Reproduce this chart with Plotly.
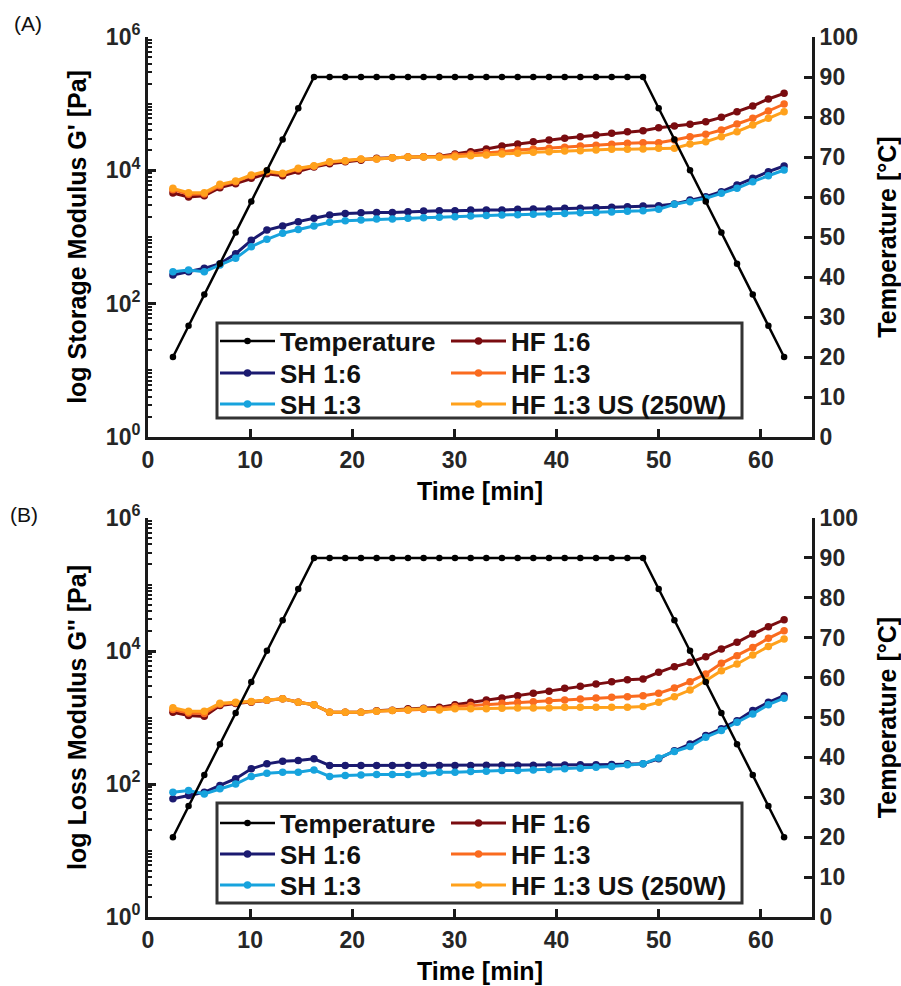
import plotly.graph_objects as go

# ---------------- data ----------------
time_min = [2.44, 3.97, 5.51, 7.04, 8.58, 10.11, 11.64, 13.18, 14.71, 16.25,
            17.78, 19.31, 20.85, 22.38, 23.92, 25.45, 26.98, 28.52, 30.05, 31.59,
            33.12, 34.65, 36.19, 37.72, 39.26, 40.79, 42.32, 43.86, 45.39, 46.93,
            48.46, 49.99, 51.53, 53.06, 54.60, 56.13, 57.66, 59.20, 60.73, 62.27]

temperature = [20, 27.8, 35.6, 43.3, 51.1, 58.9, 66.7, 74.4, 82.2, 90,
               90, 90, 90, 90, 90, 90, 90, 90, 90, 90,
               90, 90, 90, 90, 90, 90, 90, 90, 90, 90,
               90, 82.2, 74.4, 66.7, 58.9, 51.1, 43.3, 35.6, 27.8, 20]

# (A) storage modulus G' [Pa]
gp_sh16 = [269, 302, 339, 398, 562, 891, 1270, 1460, 1700, 1910,
           2140, 2260, 2320, 2340, 2340, 2400, 2450, 2480, 2480, 2540,
           2540, 2540, 2600, 2630, 2630, 2690, 2690, 2750, 2790, 2850,
           2920, 2950, 3130, 3590, 4030, 4790, 6030, 7590, 9550, 11610]
gp_sh13 = [302, 320, 302, 380, 479, 716, 923, 1140, 1300, 1460,
           1660, 1760, 1800, 1860, 1860, 1910, 1950, 1970, 2020, 2070,
           2110, 2140, 2160, 2190, 2210, 2260, 2320, 2340, 2370, 2430,
           2480, 2600, 3090, 3390, 3800, 4520, 5370, 6760, 8320, 10120]
gp_hf16 = [4570, 3980, 4170, 5500, 6310, 7590, 8910, 8320, 9770, 11220,
           12590, 13490, 14130, 15140, 15490, 15850, 16030, 16220, 17580, 19050,
           20890, 23170, 24830, 26920, 28510, 30200, 31990, 33880, 35890, 38020,
           39360, 43650, 46240, 48980, 53700, 62370, 75860, 92260, 117500, 142900]
gp_hf13 = [5130, 4370, 4420, 5890, 6760, 8320, 9550, 8910, 10470, 11480,
           13180, 13800, 14620, 14790, 15490, 15850, 16030, 16030, 16980, 17580,
           18410, 19050, 20180, 20890, 21380, 22130, 23170, 23710, 24550, 25410,
           26000, 26000, 28510, 31990, 34670, 40270, 49550, 60260, 77620, 98850]
gp_hf13us = [5370, 4620, 4620, 6170, 6920, 8510, 9770, 9020, 10720, 11750,
             13490, 13960, 14790, 14790, 15490, 15850, 15850, 15670, 16030, 16600,
             16980, 17580, 17990, 18620, 19050, 19500, 19720, 20180, 20650, 20650,
             20890, 21380, 21380, 24830, 26920, 31990, 38020, 47860, 60260, 75860]

# (B) loss modulus G'' [Pa]
gpp_sh16 = [60, 67, 75, 95, 120, 169, 201, 220, 225, 239,
            190, 190, 190, 190, 190, 190, 190, 190, 190, 190,
            191, 191, 192, 192, 193, 193, 194, 195, 196, 201,
            201, 239, 316, 398, 535, 675, 897, 1270, 1690, 2130]
gpp_sh13 = [75, 80, 71, 85, 100, 130, 145, 150, 150, 163,
            130, 134, 137, 139, 139, 139, 144, 150, 150, 154,
            156, 160, 160, 163, 165, 169, 173, 179, 183, 194,
            201, 247, 308, 366, 505, 635, 847, 1130, 1560, 1950]
gpp_hf16 = [1200, 1070, 1040, 1510, 1620, 1700, 1820, 1910, 1700, 1550,
            1200, 1200, 1200, 1260, 1290, 1350, 1380, 1420, 1560, 1690,
            1840, 1970, 2130, 2310, 2480, 2750, 2950, 3190, 3460, 3710,
            3800, 4780, 5810, 6750, 8200, 10720, 13490, 17990, 23170, 29510]
gpp_hf13 = [1320, 1170, 1150, 1580, 1660, 1720, 1820, 1910, 1700, 1550,
            1200, 1200, 1200, 1240, 1270, 1300, 1330, 1350, 1460, 1510,
            1600, 1640, 1690, 1730, 1790, 1840, 1900, 1970, 2010, 2060,
            2130, 2310, 2780, 3460, 4510, 6520, 8510, 11320, 15490, 20180]
gpp_hf13us = [1400, 1240, 1240, 1640, 1700, 1740, 1840, 1910, 1700, 1550,
              1200, 1200, 1200, 1240, 1270, 1300, 1350, 1300, 1350, 1350,
              1350, 1380, 1390, 1390, 1390, 1420, 1420, 1420, 1420, 1420,
              1460, 1690, 2060, 2590, 3580, 5060, 6370, 8690, 11720, 15140]

series_names = ["SH 1:6", "SH 1:3", "HF 1:6", "HF 1:3", "HF 1:3 US (250W)"]
x_ticks = [0, 10, 20, 30, 40, 50, 60]
temp_ticks = [0, 10, 20, 30, 40, 50, 60, 70, 80, 90, 100]
log_ticks = [1, 100, 10000, 1000000]
log_tick_text = ["10<sup>0</sup>", "10<sup>2</sup>", "10<sup>4</sup>", "10<sup>6</sup>"]

# ---------------- style ----------------
W, H = 901, 986
FONT = "Liberation Sans, Arial, sans-serif"
colors = {"SH 1:6": "#1b1a70", "SH 1:3": "#17a3dd", "HF 1:6": "#7a0c10",
          "HF 1:3": "#fa6b1f", "HF 1:3 US (250W)": "#ffa11c", "Temperature": "#000000"}
AX = "#1a1a1a"


def fx(px):
    return px / W


def fy(py):
    return 1 - py / H


minor_vals = []
for dec in [1, 10, 100, 1000, 10000, 100000]:
    for m in range(2, 10):
        minor_vals.append(dec * m)
minor_vals += [10, 1000, 100000]

# legend slot for every entry: rows Temperature / SH 1:6 / SH 1:3 in column 1,
# HF entries in column 2
row_of = {"Temperature": 0, "SH 1:6": 1, "SH 1:3": 2,
          "HF 1:6": 0, "HF 1:3": 1, "HF 1:3 US (250W)": 2}
col_of = {"Temperature": 0, "SH 1:6": 0, "SH 1:3": 0,
          "HF 1:6": 1, "HF 1:3": 1, "HF 1:3 US (250W)": 1}
row_centers = [[341, 373, 404], [823, 854, 885]]
col_origin = [215, 446]

legend_layout = {}
legend_ids = {}
counter = 0
for pi in range(2):
    for name in ["Temperature"] + series_names:
        counter += 1
        lid = "legend" if counter == 1 else "legend%d" % counter
        legend_ids[(pi, name)] = lid
        legend_layout[lid] = dict(
            x=fx(col_origin[col_of[name]]), y=fy(row_centers[pi][row_of[name]]),
            xanchor="left", yanchor="middle", bgcolor="rgba(0,0,0,0)", borderwidth=0,
            font=dict(family=FONT, size=26, color="#111111", weight="bold"),
            itemwidth=55, orientation="v")

fig = go.Figure()

panels = [
    dict(xa="x", ya="y", ya2="y2", data=[gp_sh16, gp_sh13, gp_hf16, gp_hf13, gp_hf13us]),
    dict(xa="x2", ya="y3", ya2="y4", data=[gpp_sh16, gpp_sh13, gpp_hf16, gpp_hf13, gpp_hf13us]),
]

for pi, p in enumerate(panels):
    for name, vals in zip(series_names, p["data"]):
        fig.add_trace(go.Scatter(
            x=time_min, y=vals, name=name, mode="lines+markers",
            line=dict(color=colors[name], width=3),
            marker=dict(color=colors[name], size=7.5),
            xaxis=p["xa"], yaxis=p["ya"], legend=legend_ids[(pi, name)],
        ))
    fig.add_trace(go.Scatter(
        x=time_min, y=temperature, name="Temperature", mode="lines+markers",
        line=dict(color="#000000", width=2.5),
        marker=dict(color="#000000", size=6.5),
        xaxis=p["xa"], yaxis=p["ya2"], legend=legend_ids[(pi, "Temperature")],
    ))

tickfont = dict(family=FONT, size=23, color="#262626", weight="bold")
titlefont = dict(family=FONT, size=25, color="#000000", weight="bold")
xdom = [fx(148), fx(812)]
domA = [fy(437), fy(37)]
domB = [fy(917), fy(518)]

common_x = dict(domain=xdom, range=[0, 65], tickmode="array", tickvals=x_ticks,
                showline=True, linewidth=3, linecolor=AX, ticks="inside",
                ticklen=8, tickwidth=2.5, tickcolor=AX, tickfont=tickfont,
                showgrid=False, zeroline=False, automargin=False,
                title=dict(text="Time [min]", font=titlefont, standoff=11))
common_ylog = dict(type="log", range=[0, 6], tickmode="array", tickvals=log_ticks,
                   ticktext=log_tick_text, showline=True, linewidth=3, linecolor=AX,
                   ticks="inside", ticklen=8, tickwidth=2.5, tickcolor=AX,
                   tickfont=tickfont, showgrid=False, zeroline=False, automargin=False,
                   minor=dict(tickmode="array", tickvals=minor_vals, ticks="inside",
                              ticklen=4, tickwidth=2, tickcolor=AX, showgrid=False))
common_yT = dict(range=[0, 100], tickmode="array", tickvals=temp_ticks, side="right",
                 showline=True, linewidth=3, linecolor=AX, ticks="inside", ticklen=8,
                 tickwidth=2.5, tickcolor=AX, tickfont=tickfont, showgrid=False,
                 zeroline=False, automargin=False,
                 title=dict(text="Temperature [°C]", font=titlefont, standoff=24))

fig.update_layout(
    xaxis=dict(common_x, anchor="y"),
    xaxis2=dict(common_x, anchor="y3"),
    yaxis=dict(common_ylog, domain=domA, anchor="x",
               title=dict(text="log Storage Modulus G' [Pa]", font=titlefont, standoff=13)),
    yaxis2=dict(common_yT, overlaying="y", anchor="x"),
    yaxis3=dict(common_ylog, domain=domB, anchor="x2",
                title=dict(text="log Loss Modulus G'' [Pa]", font=titlefont, standoff=13)),
    yaxis4=dict(common_yT, overlaying="y3", anchor="x2"),
    **legend_layout,
)

# legend frames
for (y0, y1) in [(323, 418), (803, 903)]:
    fig.add_shape(type="rect", xref="paper", yref="paper",
                  x0=fx(217), x1=fx(742), y0=fy(y1), y1=fy(y0),
                  line=dict(color="#333333", width=3), fillcolor="rgba(0,0,0,0)")

fig.add_annotation(text="(A)", xref="paper", yref="paper", x=fx(28), y=fy(24),
                   xanchor="center", yanchor="middle",
                   showarrow=False, font=dict(family=FONT, size=21, color="#111"))
fig.add_annotation(text="(B)", xref="paper", yref="paper", x=fx(24), y=fy(514),
                   xanchor="center", yanchor="middle",
                   showarrow=False, font=dict(family=FONT, size=21, color="#111"))

fig.update_layout(
    width=W, height=H, template="none",
    margin=dict(l=0, r=0, t=0, b=0),
    paper_bgcolor="white", plot_bgcolor="white",
    showlegend=True, font=dict(family=FONT),
)

fig.write_html("out.html", config={"displayModeBar": False},
               post_script="document.body.style.margin='0';")
